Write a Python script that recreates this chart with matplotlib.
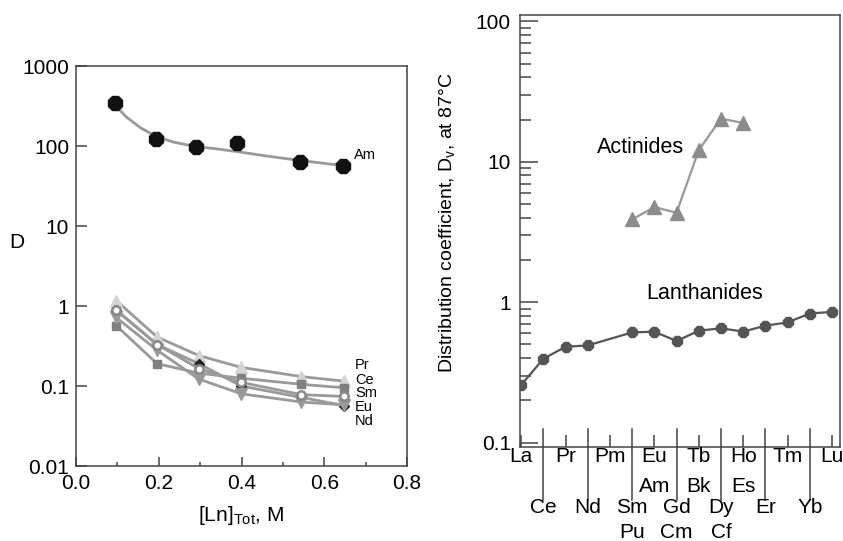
import numpy as np
import matplotlib.pyplot as plt

plt.rcParams['font.family'] = ['Liberation Sans', 'DejaVu Sans']

# ---- left panel data: D vs total lanthanide concentration ----
am_x = [0.095, 0.193, 0.29, 0.39, 0.542, 0.645]
am_d = [340, 123, 96, 109, 64, 57]
am_fit_x = [0.094, 0.122, 0.155, 0.192, 0.235, 0.289, 0.34, 0.39, 0.46, 0.541, 0.645]
am_fit_d = [325, 230, 170, 133, 112, 98.6, 92, 85, 75, 66, 57]

ln_x = [0.097, 0.196, 0.297, 0.399, 0.545, 0.648]
pr_d = [1.17, 0.41, 0.24, 0.171, 0.131, 0.115]
ce_d = [0.57, 0.19, 0.145, 0.125, 0.105, 0.095]
sm_d = [0.90, 0.33, 0.165, 0.111, 0.078, 0.074]
eu_d = [0.88, 0.33, 0.19, 0.100, 0.072, 0.057]
nd_d = [0.72, 0.28, 0.122, 0.080, 0.063, 0.058]

# ---- right panel data: Dv at 87 C across the series ----
lanth = ['La', 'Ce', 'Pr', 'Nd', 'Pm', 'Sm', 'Eu', 'Gd', 'Tb', 'Dy', 'Ho', 'Er', 'Tm', 'Yb', 'Lu']
ln_pts = ['La', 'Ce', 'Pr', 'Nd', 'Sm', 'Eu', 'Gd', 'Tb', 'Dy', 'Ho', 'Er', 'Tm', 'Yb', 'Lu']
ln_dv = [0.257, 0.395, 0.481, 0.492, 0.609, 0.616, 0.529, 0.626, 0.652, 0.617, 0.68, 0.718, 0.83, 0.853]
act_under = ['Sm', 'Eu', 'Gd', 'Tb', 'Dy', 'Ho']
act_names = ['Pu', 'Am', 'Cm', 'Bk', 'Cf', 'Es']
act_dv = [3.89, 4.75, 4.34, 12.1, 20.3, 18.9]

fig = plt.figure(figsize=(8.43, 5.41), dpi=100)

# ================= left =================
ax1 = fig.add_axes([76 / 843, 1 - 466 / 541, 331 / 843, 400 / 541])
grey = '#9a9a9a'
ax1.plot(am_fit_x, am_fit_d, color=grey, lw=2, zorder=2)
ax1.plot(am_x, am_d, ls='none', marker='8', ms=11, color='#111111', zorder=3)

lw = 2
ax1.plot(ln_x, pr_d, color=grey, lw=lw, marker='^', ms=9, mfc='#d4d4d4', mec='#d4d4d4', zorder=3)
ax1.plot(ln_x, ce_d, color=grey, lw=lw, marker='s', ms=6, mfc='#808080', mec='#808080', zorder=3)
ax1.plot(ln_x, sm_d, color=grey, lw=lw, marker='o', ms=6, mfc='white', mec='#888888', mew=1.8, zorder=4)
ax1.plot(ln_x, eu_d, color=grey, lw=lw, marker='D', ms=5, mfc='#222222', mec='#222222', zorder=3)
ax1.plot(ln_x, nd_d, color=grey, lw=lw, marker='v', ms=8, mfc='#999999', mec='#999999', zorder=3)

ax1.text(0.672, 77, 'Am', fontsize=10.5, va='center')
for lab, yv in zip(['Pr', 'Ce', 'Sm', 'Eu', 'Nd'], [0.182, 0.12, 0.081, 0.054, 0.036]):
    ax1.text(0.674, yv, lab, fontsize=10.5, va='center')

ax1.set_yscale('log')
ax1.set_xlim(0, 0.8)
ax1.set_ylim(0.01, 1000)
ax1.set_yticks([0.01, 0.1, 1, 10, 100, 1000])
ax1.set_yticklabels(['0.01', '0.1', '1', '10', '100', '1000'])
ax1.yaxis.set_minor_locator(plt.NullLocator())
ax1.set_xticks([0, 0.2, 0.4, 0.6, 0.8])
ax1.set_xticklabels(['0.0', '0.2', '0.4', '0.6', '0.8'])
ax1.set_xticks([0.1, 0.3, 0.5, 0.7], minor=True)
ax1.tick_params(axis='y', direction='in', length=8, width=1.1, labelsize=15, pad=5, color='#444444')
ax1.tick_params(axis='x', which='major', direction='in', length=6.5, width=1.1, labelsize=15, pad=6, color='#444444')
ax1.tick_params(axis='x', which='minor', direction='in', length=3, width=1.1, color='#444444')
for s in ax1.spines.values():
    s.set_color('#444444')
    s.set_linewidth(1.1)
ax1.set_ylabel('D', fontsize=15, rotation=0)
ax1.yaxis.set_label_coords(-0.178, 0.535)
ax1.set_xlabel('[Ln]$_{\\mathregular{Tot}}$, M', fontsize=15)
ax1.xaxis.set_label_coords(0.5, -0.095)

# ================= right =================
ax2 = fig.add_axes([520 / 843, 1 - 447 / 541, 320 / 843, 432 / 541])
xpos = {e: i for i, e in enumerate(lanth)}
ax2.plot([xpos[e] for e in ln_pts], ln_dv, color='#555555', lw=1.6,
         marker='8', ms=7.5, mfc='#555555', mec='#555555', zorder=3)
ax2.plot([xpos[e] for e in act_under], act_dv, color='#999999', lw=1.6,
         marker='^', ms=10, mfc='#8c8c8c', mec='#8c8c8c', zorder=3)
ax2.text(5.36, 12.7, 'Actinides', fontsize=15.5, ha='center', va='center')
ax2.text(8.28, 1.16, 'Lanthanides', fontsize=15.5, ha='center', va='center')

ax2.set_yscale('log')
ax2.set_xlim(-0.05, 14.36)
ax2.set_ylim(0.093, 111)
ax2.set_yticks([0.1, 1, 10, 100])
ax2.set_yticklabels(['0.1', '1', '10', '100'])
ax2.yaxis.set_minor_locator(plt.LogLocator(base=10, subs=np.arange(2, 10)))
ax2.yaxis.set_minor_formatter(plt.NullFormatter())
ax2.tick_params(axis='y', which='major', direction='in', length=13, width=1.1, labelsize=15, pad=6.5, color='#444444')
ax2.tick_params(axis='y', which='minor', direction='in', length=8, width=1.1, color='#444444')
ax2.set_xticks(range(0, 15, 2))
ax2.set_xticklabels([])
ax2.tick_params(axis='x', direction='in', length=8.5, width=1.1, color='#444444')
for s in ax2.spines.values():
    s.set_color('#444444')
    s.set_linewidth(1.1)

# long separator lines at odd positions
for i in range(1, 15, 2):
    ax2.plot([i, i], [-0.1227, 0.0417], transform=ax2.get_xaxis_transform(),
             color='#444444', lw=1.1, clip_on=False)

row_offsets = [10.6, 32.2, 47.7, 65.7]
rows = [
    [(e, e) for e in lanth[0::2]],
    [('Eu', 'Am'), ('Tb', 'Bk'), ('Ho', 'Es')],
    [(e, e) for e in lanth[1::2]],
    [('Sm', 'Pu'), ('Gd', 'Cm'), ('Dy', 'Cf')],
]
for off, row in zip(row_offsets, rows):
    for pos, lab in row:
        ax2.annotate(lab, xy=(xpos[pos], 0), xycoords=('data', 'axes fraction'),
                     xytext=(0, -off), textcoords='offset points',
                     ha='center', va='baseline', fontsize=15, annotation_clip=False)

ax2.set_ylabel('Distribution coefficient, D$_{\\mathregular{v}}$, at 87°C', fontsize=14)
ax2.yaxis.set_label_coords(-0.194, 0.52)

fig.savefig('out.png', dpi=100)
